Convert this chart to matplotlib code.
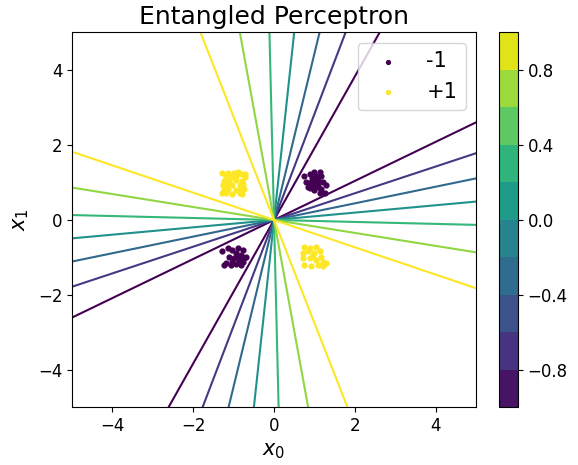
import numpy as np
import matplotlib
matplotlib.use('Agg')
import matplotlib.pyplot as plt
from matplotlib.colors import Normalize
from matplotlib.cm import ScalarMappable

# contour levels that appear in the plot and the two directions (deg) of each line
levels = [-0.8, -0.6, -0.4, -0.2, 0.0, 0.2, 0.4]
angle_a = [27.5, 19.6, 12.5, 5.6, -1.5, -9.8, -20.0]
angle_b = [62.4, 70.5, 77.3, 84.3, 91.3, 99.6, 110.0]

# colorbar boundaries
cbar_bounds = [-1.0, -0.8, -0.6, -0.4, -0.2, 0.0, 0.2, 0.4, 0.6, 0.8, 1.0]
cbar_ticks = [-0.8, -0.4, 0.0, 0.4, 0.8]

# class -1 points
neg_x = [0.75, 0.88, 1.00, 1.13, 0.94, 1.04, 1.17, 0.79, 0.92, 1.04, 1.21, 1.29, 0.84, 0.96,
         1.08, 1.17, 1.25, 1.00, 1.13, 0.88, 1.08, 0.98, 1.10, 0.90,
         -1.28, -1.15, -1.03, -0.90, -0.78, -0.94, -0.82, -0.70, -1.11, -0.99, -0.86, -0.74,
         -1.19, -1.07, -0.94, -0.82, -1.23, -1.03, -0.90, -0.78]
neg_y = [1.16, 1.23, 1.29, 1.29, 1.11, 1.16, 1.16, 1.02, 1.02, 0.99, 1.02, 0.93, 0.89, 0.91,
         0.89, 0.82, 0.71, 0.80, 0.73, 0.96, 1.07, 1.00, 0.95, 0.84,
         -0.84, -0.76, -0.80, -0.76, -0.80, -0.89, -0.93, -0.98, -0.98, -1.02, -1.07, -1.02,
         -1.15, -1.20, -1.18, -1.20, -1.20, -1.11, -0.98, -1.11]

# class +1 points
pos_x = [-1.28, -1.13, -0.99, -0.90, -0.82, -0.71, -1.19, -1.03, -0.94, -0.72,
         -1.23, -1.11, -0.94, -0.80, -1.26, -1.13, -1.03, -0.84, -0.76,
         -1.23, -1.15, -0.94, -0.82, -0.74, -1.28, -1.18, -1.04, -0.84, -0.80,
         0.75, 0.88, 1.04, 0.71, 0.84, 1.00, 1.13, 1.17, 0.71, 0.88, 1.04, 1.21, 1.29,
         0.75, 0.92, 1.08, 1.21, 0.96]
pos_y = [1.26, 1.25, 1.24, 1.27, 1.22, 1.23, 1.16, 1.15, 1.17, 1.14,
         1.05, 1.04, 1.06, 1.05, 0.93, 0.94, 0.92, 0.93, 0.95,
         0.82, 0.83, 0.81, 0.84, 0.82, 0.71, 0.72, 0.70, 0.72, 0.70,
         -0.71, -0.76, -0.71, -0.89, -0.84, -0.89, -0.84, -0.98, -1.02, -1.02, -1.07, -1.11, -1.15,
         -1.20, -1.24, -1.20, -1.22, -0.93]

fig = plt.figure(figsize=(5.78, 4.65), dpi=100)
ax = fig.add_axes([0.1246, 0.1237, 0.699, 0.8065])
cax = fig.add_axes([0.8633, 0.1237, 0.0329, 0.8065])

cmap = plt.get_cmap('viridis')
line_norm = Normalize(min(levels), max(levels))
R = 20
for lev, a, b in zip(levels, angle_a, angle_b):
    for ang in (a, b):
        t = np.deg2rad(ang)
        ax.plot([-R * np.cos(t), R * np.cos(t)], [-R * np.sin(t), R * np.sin(t)],
                color=cmap(line_norm(lev)), lw=1.5)

ax.scatter(neg_x, neg_y, s=12, color=cmap(0.0), label='-1', zorder=3)
ax.scatter(pos_x, pos_y, s=12, color=cmap(1.0), label='+1', zorder=3)

ax.set_xlim(-5, 5)
ax.set_ylim(-5, 5)
ax.set_xticks([-4, -2, 0, 2, 4])
ax.set_yticks([-4, -2, 0, 2, 4])
ax.tick_params(labelsize=12)
ax.set_xlabel('$x_0$', fontsize=15, labelpad=4)
ax.set_ylabel('$x_1$', fontsize=15, labelpad=5)
ax.set_title('Entangled Perceptron', fontsize=18)
ax.legend(loc='upper right', fontsize=15, handlelength=2.1, markerscale=0.8)

mids = [(cbar_bounds[i] + cbar_bounds[i + 1]) / 2 for i in range(len(cbar_bounds) - 1)]
sm = ScalarMappable(norm=Normalize(-1, 1), cmap=cmap)
cb = fig.colorbar(sm, cax=cax, boundaries=cbar_bounds, values=mids)
cb.set_ticks(cbar_ticks)
cb.ax.tick_params(labelsize=12)

fig.savefig('out.png', dpi=100)
